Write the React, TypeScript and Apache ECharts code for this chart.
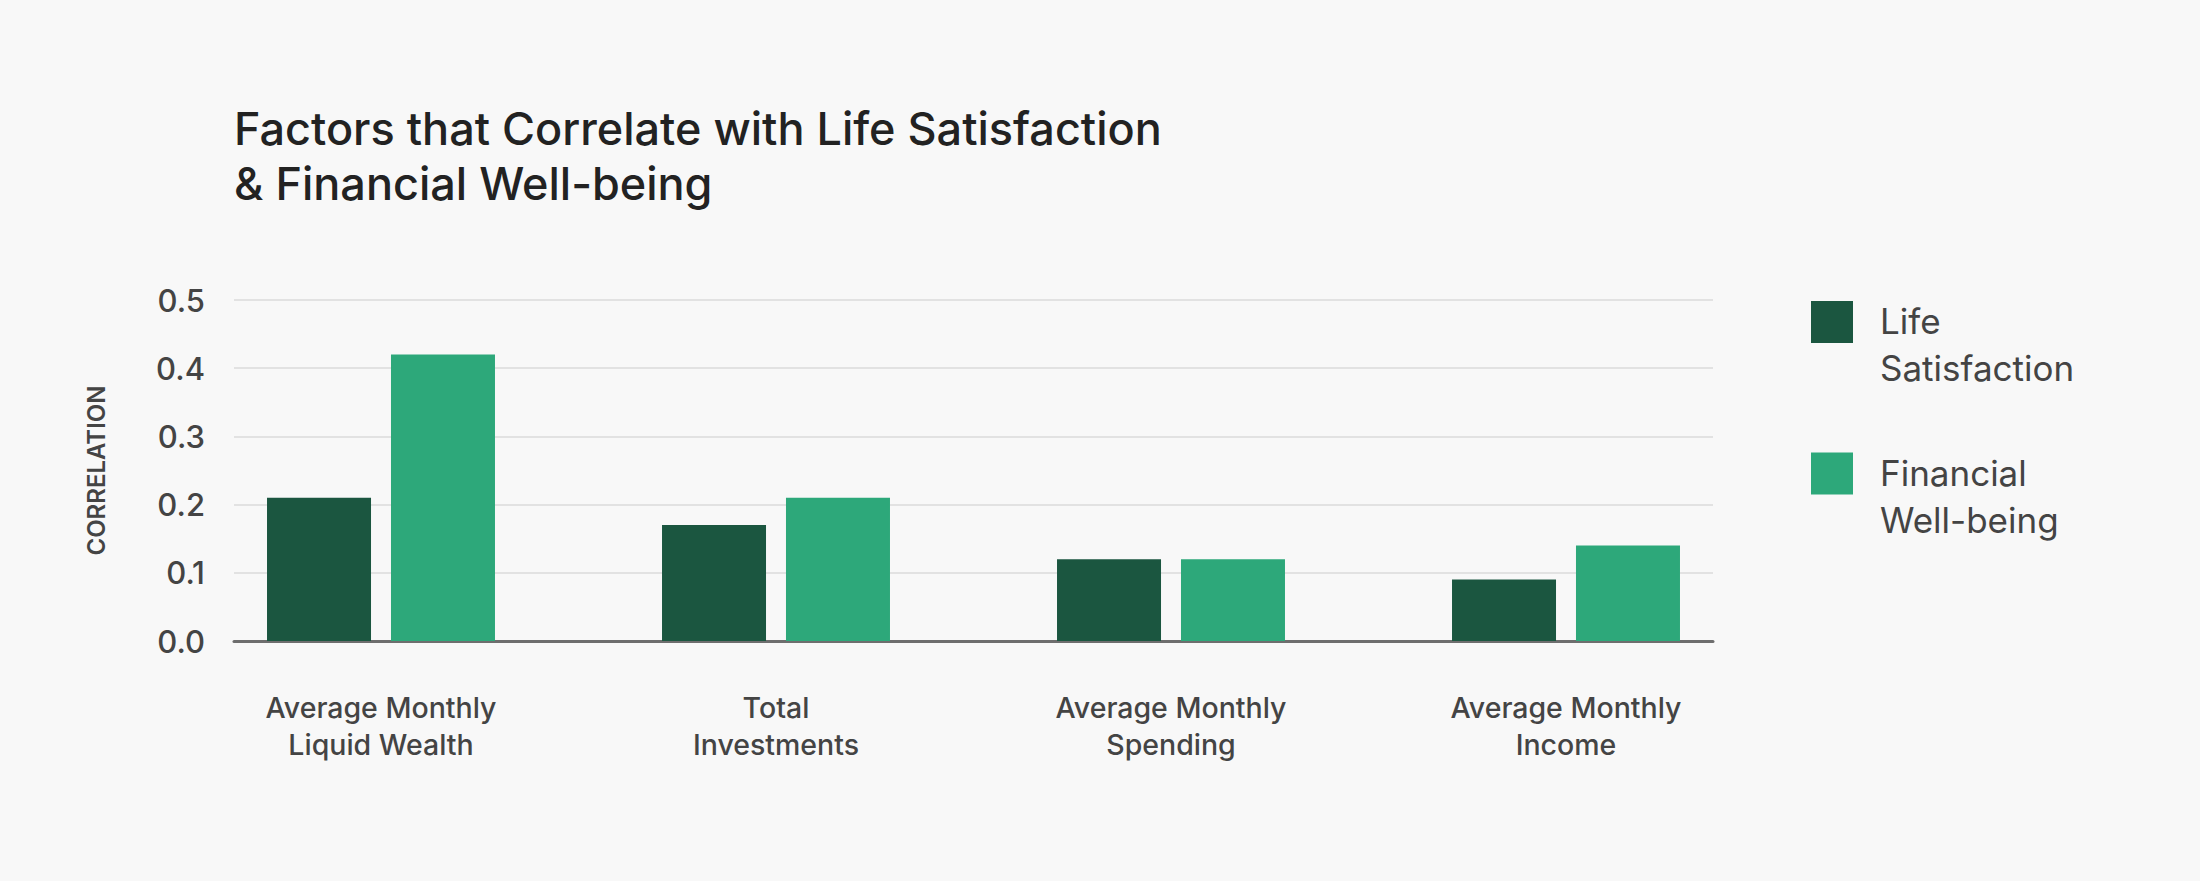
import React, { useEffect, useRef } from "react";
import * as echarts from "echarts";

const titleText = "Factors that Correlate with Life Satisfaction\n& Financial Well-being";
const categories = [
  "Average Monthly\nLiquid Wealth",
  "Total\nInvestments",
  "Average Monthly\nSpending",
  "Average Monthly\nIncome",
];
const seriesNames = ["Life Satisfaction", "Financial Well-being"];
const legendLines: Record<string, string[]> = {
  "Life Satisfaction": ["Life", "Satisfaction"],
  "Financial Well-being": ["Financial", "Well-being"],
};
const lifeSatisfaction = [0.21, 0.17, 0.12, 0.09];
const financialWellbeing = [0.42, 0.21, 0.12, 0.14];
const yMin = 0;
const yMax = 0.5;
const yStep = 0.1;
const yAxisName = "CORRELATION";

const FONT = "Inter, 'Noto Sans', sans-serif";

export default function App() {
  const ref = useRef<HTMLDivElement>(null);
  useEffect(() => {
    if (!ref.current) return;
    const chart = echarts.init(ref.current, undefined, { renderer: "svg" });
    chart.setOption({
      animation: false,
      backgroundColor: "#f8f8f8",
      textStyle: { fontFamily: FONT },
      title: {
        text: titleText,
        left: 234,
        top: 101,
        padding: 0,
        textStyle: {
          fontFamily: FONT,
          fontSize: 45,
          fontWeight: 500,
          color: "#222222",
          lineHeight: 55,
        },
      },
      legend: {
        data: seriesNames,
        orient: "vertical",
        left: 1811,
        top: 270,
        padding: 0,
        itemWidth: 42,
        itemHeight: 42,
        itemGap: 36,
        icon: "rect",
        formatter: (n: string) => {
          const lines = legendLines[n] || [n];
          return "{s| }\n" + lines.map((l) => "{a|" + l + "}").join("\n");
        },
        textStyle: {
          fontFamily: FONT,
          fontSize: 35,
          color: "#444444",
          padding: [0, 0, 0, 22],
          rich: {
            s: { fontSize: 10, lineHeight: 45 },
            a: { fontFamily: FONT, fontSize: 35, color: "#444444", lineHeight: 47 },
          },
        },
      },
      grid: [
        { left: 234, width: 1479, top: 300, height: 341, containLabel: false },
        { left: 183.5, width: 1580, top: 300, height: 341, containLabel: false },
      ],
      xAxis: [
        {
          gridIndex: 0,
          type: "category",
          data: categories,
          axisLine: { show: true, lineStyle: { color: "#6e6e6e", width: 3 } },
          axisTick: { show: false },
          axisLabel: { show: false },
          splitLine: { show: false },
        },
        {
          gridIndex: 1,
          type: "category",
          data: categories,
          axisLine: { show: false },
          axisTick: { show: false },
          splitLine: { show: false },
          axisLabel: {
            fontFamily: FONT,
            fontSize: 28.5,
            fontWeight: 500,
            color: "#444444",
            lineHeight: 37,
            margin: 48,
            interval: 0,
          },
        },
      ],
      yAxis: [
        {
          gridIndex: 0,
          type: "value",
          min: yMin,
          max: yMax,
          interval: yStep,
          name: yAxisName,
          nameLocation: "middle",
          nameRotate: 90,
          nameGap: 126,
          nameTextStyle: {
            fontFamily: FONT,
            fontSize: 24,
            fontWeight: 600,
            color: "#444444",
          },
          axisLine: { show: false },
          axisTick: { show: false },
          axisLabel: {
            fontFamily: FONT,
            fontSize: 31,
            fontWeight: 500,
            color: "#444444",
            margin: 29,
            formatter: (v: number) => v.toFixed(1),
          },
          splitLine: { show: true, lineStyle: { color: "#e2e2e2", width: 2 } },
        },
        {
          gridIndex: 1,
          type: "value",
          min: yMin,
          max: yMax,
          interval: yStep,
          show: false,
          splitLine: { show: false },
        },
      ],
      series: [
        {
          name: seriesNames[0],
          type: "bar",
          xAxisIndex: 1,
          yAxisIndex: 1,
          data: lifeSatisfaction,
          barWidth: 104,
          barGap: "19.2%",
          itemStyle: { color: "#1b5640" },
        },
        {
          name: seriesNames[1],
          type: "bar",
          xAxisIndex: 1,
          yAxisIndex: 1,
          data: financialWellbeing,
          barWidth: 104,
          barGap: "19.2%",
          itemStyle: { color: "#2da87a" },
        },
      ],
    });
    return () => chart.dispose();
  }, []);
  return (
    <div
      ref={ref}
      style={{ position: "fixed", left: 0, top: 0, width: 2200, height: 881, background: "#f8f8f8" }}
    />
  );
}
